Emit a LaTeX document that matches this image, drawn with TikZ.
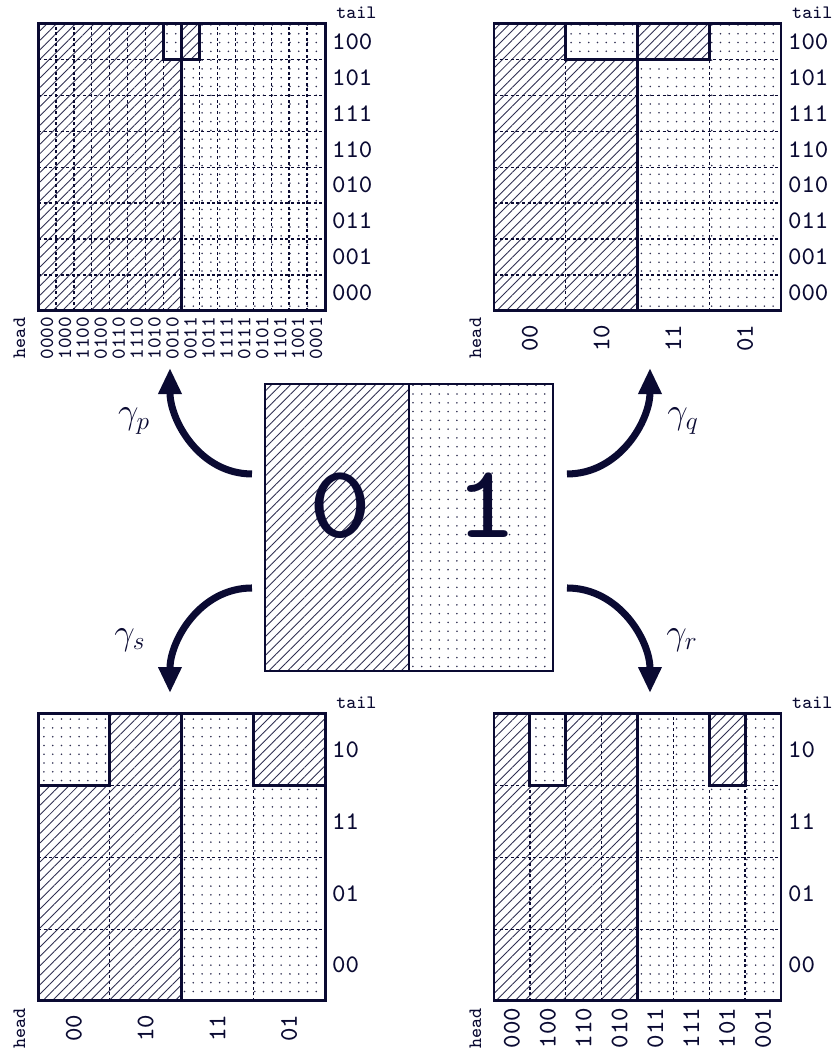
\documentclass[tikz,border=0pt]{standalone}
\usepackage{amsmath}
\usepackage{tikz}
\usetikzlibrary{arrows.meta,positioning,patterns.meta,calc}
\usepackage{xcolor}
\definecolor{ink}{RGB}{10,10,50}

\tikzset{
  hatchfill/.style={pattern={Lines[angle=45,distance=3.8pt,line width=0.5pt]},pattern color=ink!85},
  dotfill/.style={pattern={Dots[distance=5pt,radius=0.5pt]},pattern color=ink!85},
  gridline/.style={ink,line width=0.75pt,dash pattern=on 1.7pt off 1.5pt},
  boldline/.style={ink,line width=1.7pt},
  taillabel/.style={text=ink,inner sep=0pt,anchor=west,scale=1.8,font=\ttfamily\fontsize{8}{8}\selectfont},
  headlabel/.style={text=ink,inner sep=0pt,rotate=90,scale=\hfs,font=\ttfamily\fontsize{8}{8}\selectfont},
  wordlabel/.style={text=ink,inner sep=0pt,scale=1.35,font=\ttfamily\fontsize{8}{8}\selectfont},
  digitlabel/.style={text=ink,inner sep=0pt,scale=7.4,xscale=1.12,font=\ttfamily\fontsize{8}{8}\selectfont},
  maparrow/.style={ink,line width=4pt,-{Triangle[length=0.52cm,width=0.44cm]}},
  maplabel/.style={text=ink,inner sep=0pt,font=\fontsize{22}{22}\selectfont},
}

% #1 name, #2/#3 lower left corner, #4 columns, #5 rows,
% #6 column turned dotted and #7 column turned hatched in the top row,
% #8 tail labels (top to bottom), #9 head labels (left to right)
\newcommand{\gcpanel}[9]{%
  \begin{scope}[shift={(#2,#3)}]
    \pgfmathsetmacro\pcw{4/#4}
    \pgfmathsetmacro\prh{4/#5}
    \pgfmathtruncatemacro\lastc{#4-1}
    \pgfmathtruncatemacro\lastr{#5-1}
    \ifnum#4>8 \def\hfs{1.42}\else\def\hfs{1.8}\fi
    \fill[hatchfill] (0,0) rectangle (2,4);
    \fill[dotfill] (2,0) rectangle (4,4);
    \fill[white] ({#6*\pcw},{4-\prh}) rectangle ({(#6+1)*\pcw},4);
    \fill[dotfill] ({#6*\pcw},{4-\prh}) rectangle ({(#6+1)*\pcw},4);
    \fill[white] ({#7*\pcw},{4-\prh}) rectangle ({(#7+1)*\pcw},4);
    \fill[hatchfill] ({#7*\pcw},{4-\prh}) rectangle ({(#7+1)*\pcw},4);
    \foreach \k in {1,...,\lastc}
      \draw[gridline] ({\k*\pcw},0) -- ({\k*\pcw},4);
    \foreach \k in {1,...,\lastr}
      \draw[gridline] (0,{\k*\prh}) -- (4,{\k*\prh});
    \draw[boldline] (2,0) -- (2,4);
    \draw[boldline] ({#6*\pcw},{4-\prh}) rectangle ({(#6+1)*\pcw},4);
    \draw[boldline] ({#7*\pcw},{4-\prh}) rectangle ({(#7+1)*\pcw},4);
    \draw[boldline] (0,0) rectangle (4,4);
    \foreach \t [count=\i] in {#8}
      \node[taillabel] (#1-t\i) at (4.09,{4-(\i-0.5)*\prh}) {\t};
    \foreach \h [count=\i] in {#9}
      \node[headlabel] (#1-h\i) at ({(\i-0.5)*\pcw},-0.38) {\h};
    \node[wordlabel,anchor=base west] (#1-tail) at (4.15,4.08) {tail};
    \node[wordlabel,rotate=90] (#1-head) at (-0.26,-0.38) {head};
  \end{scope}}

\begin{document}
\begin{tikzpicture}[x=1.435cm,y=1.435cm]
  \useasboundingbox (0,0) rectangle (11.638,14.676);

  % the four refined maps
  \gcpanel{tl}{0.53}{10.345}{16}{8}{7}{8}{100,101,111,110,010,011,001,000}%
    {0000,1000,1100,0100,0110,1110,1010,0010,0011,1011,1111,0111,0101,1101,1001,0001}
  \gcpanel{tr}{6.885}{10.345}{4}{8}{1}{2}{100,101,111,110,010,011,001,000}{00,10,11,01}
  \gcpanel{bl}{0.53}{0.725}{4}{4}{0}{3}{10,11,01,00}{00,10,11,01}
  \gcpanel{br}{6.885}{0.725}{8}{4}{1}{6}{10,11,01,00}{000,100,110,010,011,111,101,001}

  % the source map
  \fill[hatchfill] (3.693,5.324) rectangle (5.70,9.324);
  \fill[dotfill] (5.70,5.324) rectangle (7.707,9.324);
  \draw[ink,line width=1.1pt] (3.693,5.324) rectangle (7.707,9.324)
    (5.70,5.324) -- (5.70,9.324);
  \node[digitlabel] (zero) at (4.745,7.631) {0};
  \node[digitlabel] (one) at (6.78,7.631) {1};

  % the four maps gamma
  \coordinate (p-from) at (3.512,8.070);
  \coordinate (p-to) at (2.369,9.547);
  \coordinate (q-from) at (7.902,8.070);
  \coordinate (q-to) at (9.059,9.547);
  \coordinate (s-from) at (3.512,6.481);
  \coordinate (s-to) at (2.369,5.017);
  \coordinate (r-from) at (7.902,6.481);
  \coordinate (r-to) at (9.059,5.017);
  \draw[maparrow] (p-from) to[out=180,in=-90] (p-to);
  \draw[maparrow] (q-from) to[out=0,in=-90] (q-to);
  \draw[maparrow] (s-from) to[out=180,in=90] (s-to);
  \draw[maparrow] (r-from) to[out=0,in=90] (r-to);
  \node[maplabel] (p-lab) at (1.868,8.808) {$\gamma_p$};
  \node[maplabel] (q-lab) at (9.519,8.808) {$\gamma_q$};
  \node[maplabel] (s-lab) at (1.812,5.756) {$\gamma_s$};
  \node[maplabel] (r-lab) at (9.505,5.756) {$\gamma_r$};
\end{tikzpicture}
\end{document}
